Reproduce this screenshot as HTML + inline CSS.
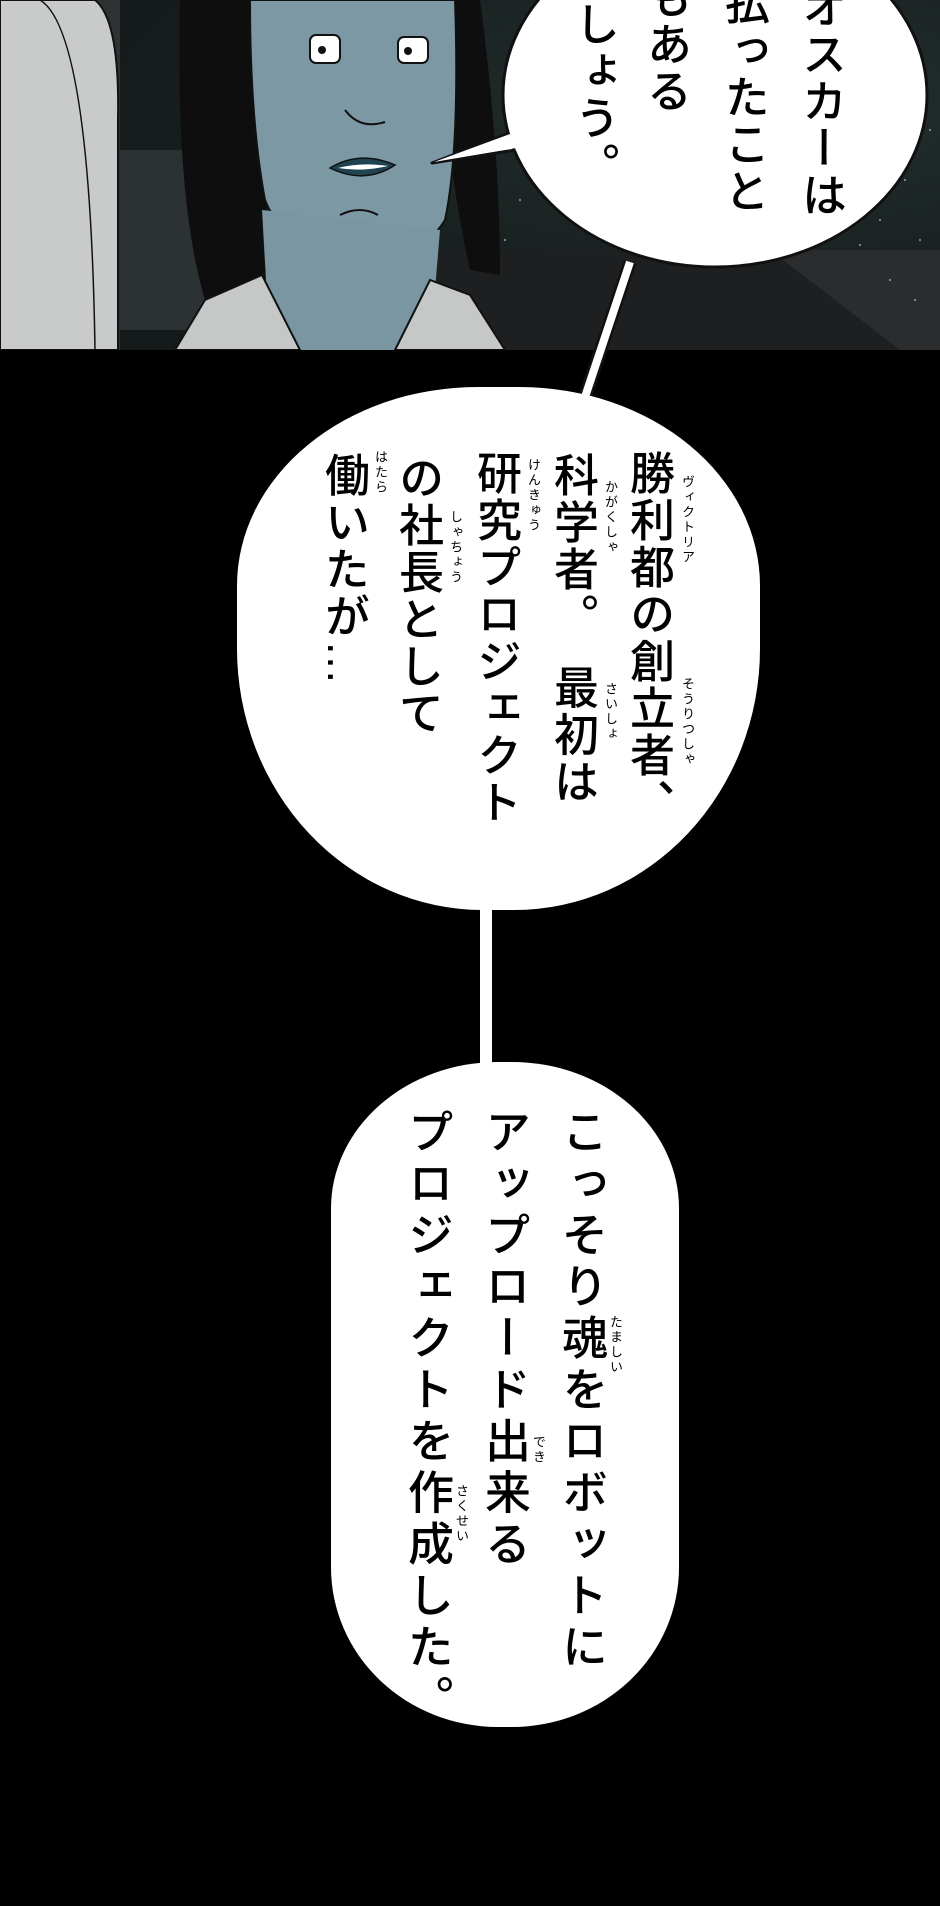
<!DOCTYPE html>
<html><head><meta charset="utf-8">
<style>
html,body{margin:0;padding:0;background:#000;}
#w{position:relative;width:940px;height:1906px;overflow:hidden;background:#000;font-family:"Liberation Sans","Noto Sans CJK JP",sans-serif;}
.v{position:absolute;writing-mode:vertical-rl;font-weight:500;color:#000;white-space:nowrap;line-height:1;}
.t{font-size:45px;letter-spacing:2px;}
.t3{font-size:46px;letter-spacing:5.5px;}
.r{position:absolute;writing-mode:vertical-rl;font-size:13px;letter-spacing:2px;color:#000;line-height:1;white-space:nowrap;}
</style></head><body><div id="w">
<svg width="940" height="1906" style="position:absolute;left:0;top:0">
<defs>
<radialGradient id="sky" cx="0.8" cy="0.3" r="0.7"><stop offset="0" stop-color="#24302f"/><stop offset="1" stop-color="#151a1b"/></radialGradient>
</defs>
<rect x="0" y="0" width="940" height="350" fill="url(#sky)"/>
<polygon points="430,250 940,250 940,350 430,350" fill="#1d1f20"/>
<polygon points="770,250 940,250 940,350 900,350" fill="#2a2c2d"/>
<g fill="#cfd8d8" opacity="0.7">
<circle cx="880" cy="220" r="1"/><circle cx="905" cy="180" r="1"/><circle cx="920" cy="240" r="1"/><circle cx="860" cy="245" r="1"/><circle cx="930" cy="130" r="1"/><circle cx="890" cy="280" r="1"/><circle cx="520" cy="200" r="1"/><circle cx="505" cy="240" r="1"/><circle cx="915" cy="300" r="1"/>
</g>
<rect x="0" y="0" width="120" height="350" fill="#2e3233"/>
<path d="M0,0 L95,0 Q120,20 118,120 L118,350 L0,350 Z" fill="#c9cbcb" stroke="#111" stroke-width="2"/>
<path d="M40,0 Q90,30 95,350" fill="none" stroke="#111" stroke-width="1.5"/>
<path d="M120,150 L240,150 L250,330 L120,330 Z" fill="#2c3133"/>
<path d="M180,0 L270,0 L265,300 L205,300 Q175,200 180,0 Z" fill="#0e0e0e"/>
<path d="M440,0 L480,0 Q500,150 500,275 L470,270 Q455,200 450,150 Z" fill="#0e0e0e"/>
<path d="M250,0 L455,0 Q460,150 445,220 Q420,262 345,262 Q285,250 265,200 Q250,120 250,0 Z" fill="#7c98a5" stroke="#111" stroke-width="2"/>
<path d="M262,210 L270,350 L430,350 L440,230 Z" fill="#7a96a3"/>
<path d="M175,350 L205,300 L262,275 L300,350 Z" fill="#c6c8c8" stroke="#111" stroke-width="2"/>
<path d="M395,350 L430,280 L470,295 L505,350 Z" fill="#c6c8c8" stroke="#111" stroke-width="2"/>
<rect x="310" y="35" width="30" height="28" rx="6" fill="#fff" stroke="#111" stroke-width="2"/>
<rect x="398" y="37" width="30" height="26" rx="6" fill="#fff" stroke="#111" stroke-width="2"/>
<circle cx="322" cy="50" r="4" fill="#111"/><circle cx="408" cy="51" r="4" fill="#111"/>
<path d="M345,110 Q360,130 385,122" fill="none" stroke="#111" stroke-width="2"/>
<path d="M330,168 Q360,150 395,165 Q365,185 330,168 Z" fill="#1f4450" stroke="#111" stroke-width="1.5"/>
<path d="M338,168 Q362,162 388,166 Q362,172 338,168Z" fill="#fff"/>
<path d="M340,215 Q360,205 378,215" fill="none" stroke="#111" stroke-width="2"/>
<rect x="0" y="350" width="940" height="1556" fill="#000"/>
<path d="M512,132 L432,163 L515,150 Z" fill="#fff" stroke="#111" stroke-width="3" stroke-linejoin="round"/>
<ellipse cx="715" cy="95" rx="212" ry="172" fill="#fff" stroke="#111" stroke-width="3"/>
<path d="M510,134 L434,162 L516,148" fill="#fff"/>
<line x1="630" y1="262" x2="584" y2="400" stroke="#111" stroke-width="13"/>
<line x1="630" y1="262" x2="584" y2="400" stroke="#fff" stroke-width="8"/>
<rect x="480" y="900" width="12" height="175" fill="#fff"/>
</svg>
<div style="position:absolute;left:237px;top:387px;width:523px;height:523px;background:#fff;border-radius:46% 46% 47% 47% / 38% 38% 50% 50%;"></div>
<div style="position:absolute;left:331px;top:1062px;width:348px;height:665px;background:#fff;border-radius:48% 48% 48% 48% / 22% 22% 24% 24%;"></div>

<div class="v t" style="left:798px;top:-16px;">オスカーは</div>
<div class="v t" style="left:721px;top:-20px;">払ったこと</div>
<div class="v t" style="left:643px;top:-26px;">もある</div>
<div class="v t" style="left:571px;top:-46px;">でしょう。</div>

<div class="v t" style="left:626px;top:450px;">勝利都の創立者、</div>
<div class="v t" style="left:550px;top:452px;">科学者。　最初は</div>
<div class="v t" style="left:473px;top:450px;">研究プロジェクト</div>
<div class="v t" style="left:395px;top:455px;">の社長として</div>
<div class="v t" style="left:321px;top:452px;">働いたが…</div>
<div class="r" style="left:681px;top:475px;">ヴィクトリア</div>
<div class="r" style="left:681px;top:677px;">そうりつしゃ</div>
<div class="r" style="left:604px;top:480px;">かがくしゃ</div>
<div class="r" style="left:604px;top:682px;">さいしょ</div>
<div class="r" style="left:527px;top:458px;">けんきゅう</div>
<div class="r" style="left:449px;top:510px;">しゃちょう</div>
<div class="r" style="left:374px;top:450px;">はたら</div>

<div class="v t3" style="left:559px;top:1108px;">こっそり魂をロボットに</div>
<div class="v t3" style="left:482px;top:1108px;">アップロード出来る</div>
<div class="v t3" style="left:405px;top:1108px;">プロジェクトを作成した。</div>
<div class="r" style="left:609px;top:1315px;">たましい</div>
<div class="r" style="left:532px;top:1435px;">でき</div>
<div class="r" style="left:455px;top:1484px;">さくせい</div>
</div></body></html>
